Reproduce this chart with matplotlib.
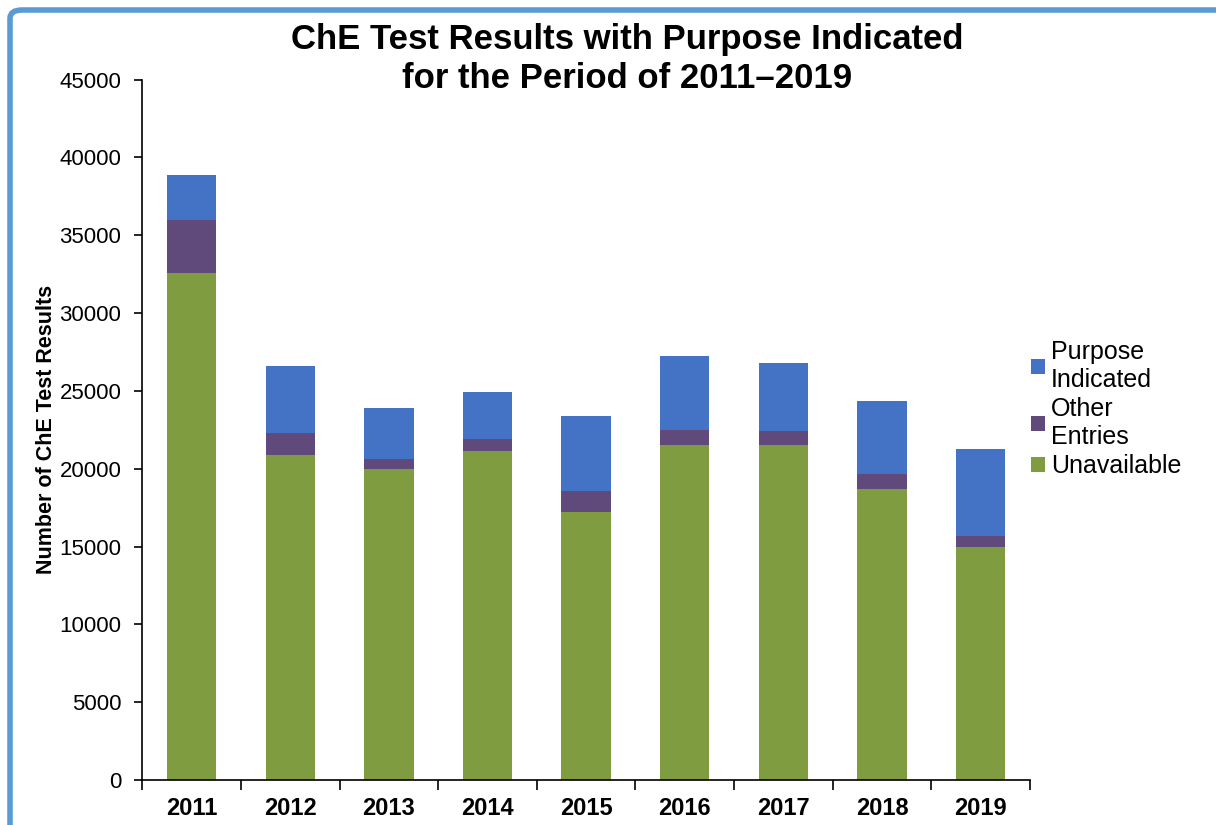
import numpy as np
import matplotlib
matplotlib.use("Agg")
import matplotlib.pyplot as plt
from matplotlib.patches import FancyBboxPatch

plt.rcParams['font.family'] = ['Liberation Sans', 'DejaVu Sans']

years = ["2011", "2012", "2013", "2014", "2015", "2016", "2017", "2018", "2019"]
unavailable = [32600, 20900, 20000, 21150, 17200, 21550, 21550, 18700, 15000]
other_entries = [3400, 1400, 600, 750, 1350, 950, 850, 950, 700]
purpose_indicated = [2900, 4300, 3300, 3050, 4850, 4750, 4400, 4700, 5600]
yticks = [0, 5000, 10000, 15000, 20000, 25000, 30000, 35000, 40000, 45000]

c_blue, c_purple, c_green = "#4472C4", "#604A7B", "#7F9C41"

fig = plt.figure(figsize=(12.16, 8.25), dpi=100)
ax = fig.add_axes([0.117, 0.0545, 0.73, 0.849])

# light blue frame (runs off the right/bottom edge like the screenshot)
frame = FancyBboxPatch((10/1216, -0.2), 1.5, 1.2 - 10/825,
                       boxstyle="round,pad=0,rounding_size=0.01",
                       transform=fig.transFigure, fill=False,
                       ec="#5B9BD5", lw=4, zorder=-10)
fig.patches.append(frame)

x = np.arange(len(years))
w = 0.5
un = np.array(unavailable); ot = np.array(other_entries); pu = np.array(purpose_indicated)
b1 = ax.bar(x, un, w, color=c_green, label="Unavailable")
b2 = ax.bar(x, ot, w, bottom=un, color=c_purple, label="Other\nEntries")
b3 = ax.bar(x, pu, w, bottom=un + ot, color=c_blue, label="Purpose\nIndicated")

ax.set_xlim(-0.5, len(years) - 0.5)
ax.set_ylim(0, 45000)
ax.set_yticks(yticks)
ax.set_yticklabels([str(v) for v in yticks], fontsize=16)
ax.set_xticks(x)
ax.set_xticklabels(years, fontsize=17, fontweight="bold")
ax.set_xticks(np.arange(-0.5, len(years)), minor=True)
ax.tick_params(axis="x", which="major", length=0, pad=12)
ax.tick_params(axis="x", which="minor", length=7, width=1.2, direction="out")
ax.tick_params(axis="y", length=6, width=1.2, direction="out", pad=9)
for s in ["top", "right"]:
    ax.spines[s].set_visible(False)
for s in ["left", "bottom"]:
    ax.spines[s].set_linewidth(1.2)

ax.set_ylabel("Number of ChE Test Results", fontsize=15.5, fontweight="bold", labelpad=2)

fig.text(0.516, 0.952, "ChE Test Results with Purpose Indicated", ha="center", va="center",
         fontsize=25, fontweight="bold")
fig.text(0.516, 0.905, "for the Period of 2011\u20132019", ha="center", va="center",
         fontsize=25, fontweight="bold")

leg = ax.legend(handles=[b3, b2, b1], loc="center left", bbox_to_anchor=(0.99, 0.53),
                frameon=False, fontsize=18, handlelength=0.55, handleheight=0.55,
                handletextpad=0.25, labelspacing=0.2, borderaxespad=0)
for t in leg.get_texts():
    t.set_linespacing(1.22)

fig.savefig("out.png", dpi=100)
